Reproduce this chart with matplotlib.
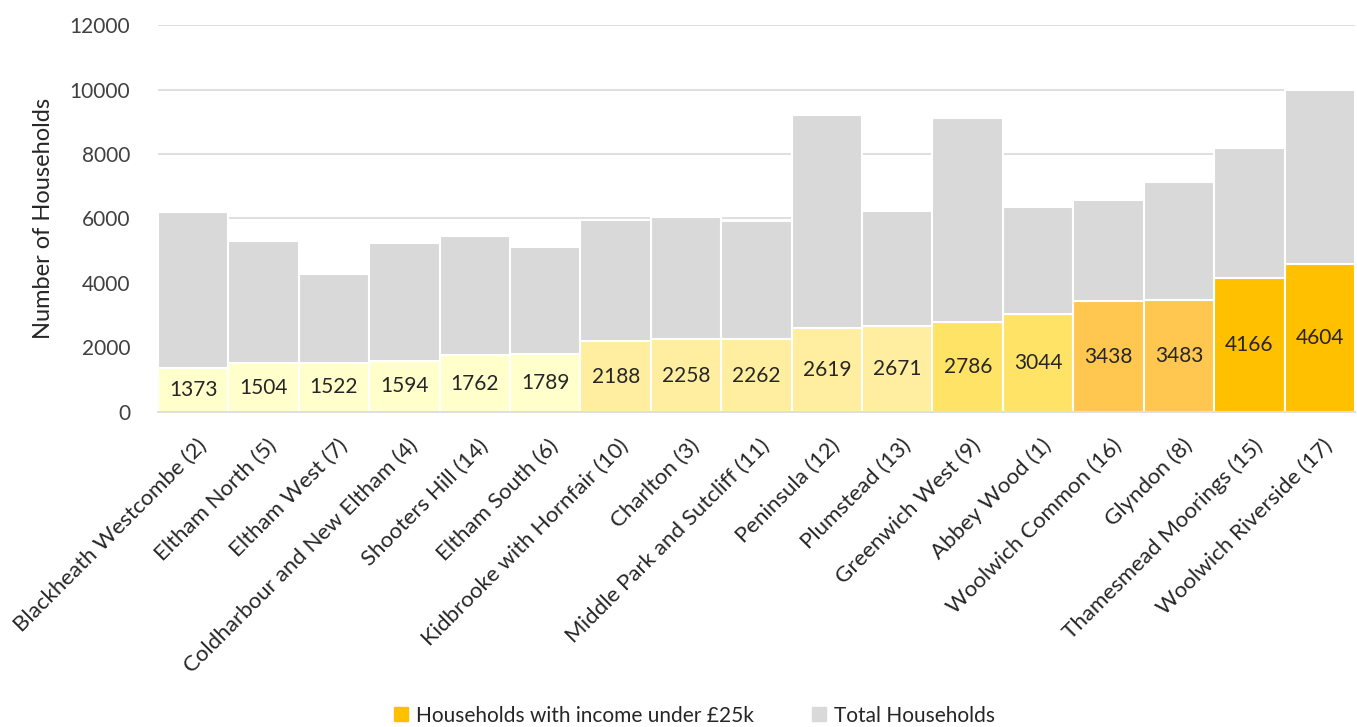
import matplotlib
matplotlib.use('Agg')
import matplotlib.pyplot as plt
from matplotlib.patches import Patch
from matplotlib.transforms import ScaledTranslation
import numpy as np

# Data
wards = ['Blackheath Westcombe (2)', 'Eltham North (5)', 'Eltham West (7)',
         'Coldharbour and New Eltham (4)', 'Shooters Hill (14)', 'Eltham South (6)',
         'Kidbrooke with Hornfair (10)', 'Charlton (3)', 'Middle Park and Sutcliff (11)',
         'Peninsula (12)', 'Plumstead (13)', 'Greenwich West (9)', 'Abbey Wood (1)',
         'Woolwich Common (16)', 'Glyndon (8)', 'Thamesmead Moorings (15)',
         'Woolwich Riverside (17)']
under_25k = [1373, 1504, 1522, 1594, 1762, 1789, 2188, 2258, 2262,
             2619, 2671, 2786, 3044, 3438, 3483, 4166, 4604]
total_households = [6200, 5310, 4270, 5230, 5460, 5125, 5940, 6035, 5910,
                    9210, 6220, 9125, 6360, 6575, 7120, 8195, 9990]
bar_colors = ['#FFFFCC'] * 6 + ['#FFEE9F'] * 5 + ['#FFE366'] * 2 + \
             ['#FFC750'] * 2 + ['#FFC000'] * 2

plt.rcParams['font.family'] = ['Lato', 'DejaVu Sans']

fig = plt.figure(figsize=(13.57, 7.27), dpi=100)
ax = fig.add_axes([0.1164, 0.4333, 0.8821, 0.5323])

x = np.arange(len(wards))
under = np.array(under_25k)
rest = np.array(total_households) - under

ax.bar(x, under, width=1.0, color=bar_colors, edgecolor='white', linewidth=1.5, zorder=2)
ax.bar(x, rest, width=1.0, bottom=under, color='#D9D9D9', edgecolor='white',
       linewidth=1.5, zorder=2)

for xi, v in zip(x, under):
    ax.text(xi, v / 2, str(v), ha='center', va='center', fontsize=15,
            color='#262626', zorder=3)

ax.set_xlim(-0.5, len(wards) - 0.5)
ax.set_ylim(0, 12000)
ax.set_yticks(range(0, 12001, 2000))
ax.yaxis.grid(True, color='#D9D9D9', linewidth=1.2, zorder=0)
ax.set_axisbelow(True)
for s in ['top', 'right', 'left']:
    ax.spines[s].set_visible(False)
ax.spines['bottom'].set_color('#D9D9D9')
ax.spines['bottom'].set_linewidth(1.2)
ax.tick_params(axis='both', length=0)
ax.tick_params(axis='y', labelsize=15, labelcolor='#404040', pad=20)

ax.set_xticks(x)
ax.set_xticklabels(wards, rotation=45, ha='right', va='center', rotation_mode='anchor',
                   fontsize=16, color='#262626')
ax.tick_params(axis='x', pad=22)
shift = ScaledTranslation(10 / 100, 0, fig.dpi_scale_trans)
for lbl in ax.get_xticklabels():
    lbl.set_transform(lbl.get_transform() + shift)

ax.set_ylabel('Number of Households', fontsize=17, color='#262626', labelpad=11)

handles = [Patch(color='#FFC000', label='Households with income under £25k'),
           Patch(color='#D9D9D9', label='Total Households')]
leg = fig.legend(handles=handles, loc='lower center', bbox_to_anchor=(0.512, -0.024),
                 ncol=2, frameon=False, fontsize=15, handlelength=0.65,
                 handleheight=0.65, handletextpad=0.4, columnspacing=2.8)
for t in leg.get_texts():
    t.set_color('#262626')

fig.savefig('out.png', dpi=100)
